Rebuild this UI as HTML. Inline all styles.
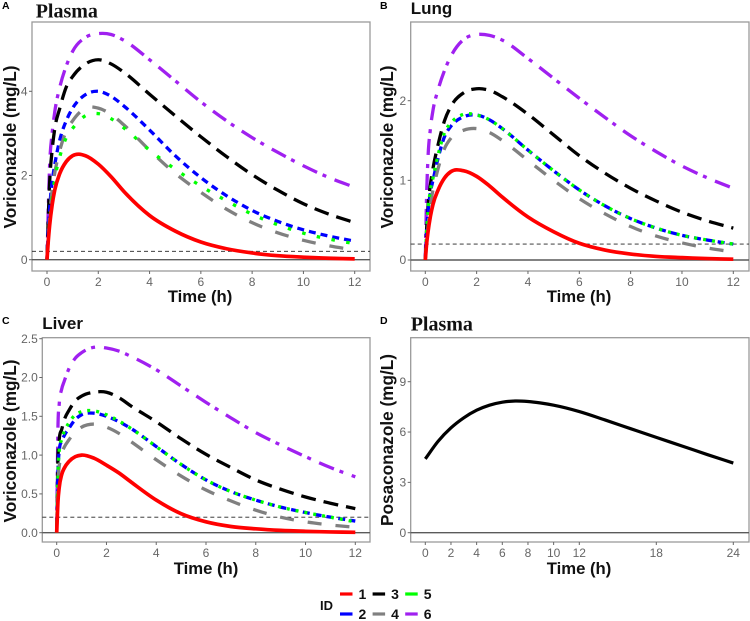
<!DOCTYPE html>
<html lang="en">
<head>
<meta charset="utf-8">
<title>Voriconazole and posaconazole concentration-time curves</title>
<style>
  html, body { margin: 0; padding: 0; background: #fff; }
  svg { display: block; filter: blur(0.3px); }
  text { font-family: "Liberation Sans", sans-serif; }
</style>
</head>
<body>
<svg id="chart" xmlns="http://www.w3.org/2000/svg" width="750" height="621" viewBox="0 0 750 621"></svg>
<script>
// ---- Data ----
const voriTimes = [0, 0.05, 0.1, 0.2, 0.3, 0.5, 0.75, 1, 1.5, 2, 2.5, 3, 4, 5, 6, 7, 8, 9, 10, 11, 12];

const plasmaId1 = [0, 0.45, 0.8, 1.3, 1.65, 2.05, 2.33, 2.47, 2.47, 2.27, 1.97, 1.62, 1.05, 0.68, 0.42, 0.26, 0.16, 0.095, 0.06, 0.035, 0.02];
const plasmaId2 = [0, 0.7, 1.2, 1.85, 2.25, 2.85, 3.3, 3.6, 3.92, 4.0, 3.88, 3.65, 3.08, 2.47, 1.95, 1.52, 1.17, 0.91, 0.71, 0.56, 0.44];
const plasmaId3 = [0, 1.0, 1.8, 2.6, 3.1, 3.6, 4.1, 4.35, 4.65, 4.75, 4.65, 4.45, 3.93, 3.42, 2.92, 2.45, 2.02, 1.65, 1.33, 1.08, 0.88];
const plasmaId4 = [0, 0.5, 1.0, 1.65, 2.05, 2.6, 3.05, 3.3, 3.6, 3.6, 3.45, 3.2, 2.6, 2.05, 1.6, 1.2, 0.88, 0.64, 0.46, 0.33, 0.23];
const plasmaId5 = [0, 0.45, 0.85, 1.45, 1.9, 2.45, 2.9, 3.12, 3.42, 3.47, 3.35, 3.13, 2.6, 2.15, 1.75, 1.4, 1.08, 0.83, 0.63, 0.49, 0.38];
const plasmaId6 = [0, 1.2, 2.2, 3.0, 3.5, 4.1, 4.6, 4.95, 5.28, 5.37, 5.35, 5.21, 4.75, 4.25, 3.75, 3.3, 2.9, 2.55, 2.23, 1.95, 1.72];

const lungId1 = [0, 0.2, 0.34, 0.55, 0.7, 0.88, 1.03, 1.11, 1.12, 1.05, 0.93, 0.79, 0.54, 0.355, 0.21, 0.125, 0.075, 0.045, 0.03, 0.018, 0.01];
const lungId2 = [0, 0.35, 0.58, 0.85, 1.0, 1.28, 1.55, 1.68, 1.8, 1.82, 1.76, 1.65, 1.38, 1.12, 0.88, 0.68, 0.52, 0.4, 0.31, 0.25, 0.2];
const lungId3 = [0, 0.38, 0.65, 0.95, 1.15, 1.45, 1.75, 1.93, 2.1, 2.15, 2.13, 2.05, 1.83, 1.57, 1.31, 1.09, 0.9, 0.74, 0.6, 0.49, 0.4];
const lungId4 = [0, 0.2, 0.4, 0.7, 0.88, 1.15, 1.4, 1.53, 1.63, 1.65, 1.6, 1.5, 1.25, 1.0, 0.77, 0.58, 0.42, 0.3, 0.215, 0.15, 0.1];
const lungId5 = [0, 0.35, 0.6, 0.88, 1.03, 1.32, 1.6, 1.72, 1.83, 1.82, 1.76, 1.65, 1.38, 1.12, 0.88, 0.68, 0.52, 0.4, 0.31, 0.25, 0.2];
const lungId6 = [0, 0.8, 1.25, 1.65, 1.88, 2.14, 2.38, 2.56, 2.77, 2.83, 2.82, 2.76, 2.53, 2.28, 2.03, 1.79, 1.56, 1.36, 1.18, 1.03, 0.9];

const liverId1 = [0, 0.4, 0.58, 0.75, 0.83, 0.92, 0.98, 1.0, 0.96, 0.87, 0.77, 0.65, 0.42, 0.245, 0.14, 0.08, 0.05, 0.03, 0.018, 0.01, 0.005];
const liverId2 = [0, 0.8, 1.05, 1.18, 1.25, 1.35, 1.46, 1.52, 1.54, 1.5, 1.43, 1.34, 1.11, 0.88, 0.68, 0.53, 0.42, 0.33, 0.26, 0.2, 0.15];
const liverId3 = [0, 0.95, 1.2, 1.33, 1.45, 1.58, 1.7, 1.76, 1.81, 1.81, 1.74, 1.63, 1.43, 1.21, 1.01, 0.84, 0.68, 0.56, 0.46, 0.38, 0.31];
const liverId4 = [0, 0.65, 0.85, 1.02, 1.1, 1.2, 1.3, 1.36, 1.4, 1.36, 1.28, 1.17, 0.94, 0.73, 0.55, 0.41, 0.29, 0.2, 0.14, 0.1, 0.07];
const liverId5 = [0, 0.75, 1.05, 1.2, 1.3, 1.42, 1.52, 1.56, 1.57, 1.52, 1.44, 1.34, 1.11, 0.88, 0.68, 0.53, 0.42, 0.33, 0.26, 0.2, 0.14];
const liverId6 = [0, 1.35, 1.65, 1.85, 1.95, 2.12, 2.25, 2.32, 2.39, 2.38, 2.34, 2.27, 2.1, 1.89, 1.68, 1.48, 1.29, 1.13, 0.98, 0.84, 0.72];

const posaTimes = [0, 1, 2, 3, 4, 5, 6, 7, 8, 9, 10, 12, 14, 16, 18, 20, 22, 24];
const posaValues = [4.4, 5.45, 6.25, 6.85, 7.3, 7.6, 7.78, 7.85, 7.82, 7.73, 7.6, 7.22, 6.72, 6.2, 5.68, 5.17, 4.65, 4.15];

const voriXTicks = [0, 2, 4, 6, 8, 10, 12];
const posaXTicks = [0, 2, 4, 6, 8, 10, 12, 18, 24];
const plasmaYTicks = [0, 2, 4];
const lungYTicks = [0, 1, 2];
const liverYTicks = [0, 0.5, 1, 1.5, 2, 2.5];
const posaYTicks = [0, 3, 6, 9];
const thresholdValue = 0.2;
const legendIds = ["1", "2", "3", "4", "5", "6"];

// ---- Styles ----
const idColors = { 1: "#ff0000", 2: "#0000ff", 3: "#000000", 4: "#808080", 5: "#00ff00", 6: "#a020f0" };
const idWidths = { 1: 3.7, 2: 3.3, 3: 3.3, 4: 3.3, 5: 3.3, 6: 3.3 };
const idDashes = { 1: "", 2: "7 5", 3: "15 8", 4: "14 14", 5: "3 9", 6: "16 6 4 9" };
const drawOrder = [6, 3, 2, 4, 5, 1];

const panels = [
  { key: "plasma", letter: "A", title: "Plasma", serif: true, letterX: 2, letterY: 9, titleX: 35.7, titleY: 17.5,
    box: [32, 22, 370, 271], xA: [0, 47], xB: [12, 354.7], yA: [0, 259.7], yB: [4, 91.3],
    xTicks: voriXTicks, yTicks: plasmaYTicks, yDecimals: 0, yTitle: "Voriconazole (mg/L)",
    xTitleX: 200, xTitleY: 302, yTitleX: 16, yTitleY: 147, greenDash: "3.5 11.5",
    series: { 1: plasmaId1, 2: plasmaId2, 3: plasmaId3, 4: plasmaId4, 5: plasmaId5, 6: plasmaId6 } },
  { key: "lung", letter: "B", title: "Lung", serif: false, letterX: 380, letterY: 9, titleX: 410.7, titleY: 14,
    box: [410.7, 22, 749, 271], xA: [0, 425.3], xB: [12, 733.3], yA: [0, 260], yB: [2, 100.7],
    xTicks: voriXTicks, yTicks: lungYTicks, yDecimals: 0, yTitle: "Voriconazole (mg/L)",
    xTitleX: 579, xTitleY: 302, yTitleX: 393, yTitleY: 147, greenDash: "3 6",
    series: { 1: lungId1, 2: lungId2, 3: lungId3, 4: lungId4, 5: lungId5, 6: lungId6 } },
  { key: "liver", letter: "C", title: "Liver", serif: false, letterX: 2, letterY: 324, titleX: 42.3, titleY: 329,
    box: [42.3, 337.7, 370, 542], xA: [0, 56.7], xB: [12, 355.3], yA: [0, 532.7], yB: [2.5, 338.7],
    xTicks: voriXTicks, yTicks: liverYTicks, yDecimals: 1, yTitle: "Voriconazole (mg/L)",
    xTitleX: 206, xTitleY: 574, yTitleX: 16, yTitleY: 441, greenDash: "3 6",
    series: { 1: liverId1, 2: liverId2, 3: liverId3, 4: liverId4, 5: liverId5, 6: liverId6 } }
];

const svg = document.getElementById("chart");
const NS = "http://www.w3.org/2000/svg";

function make(tag, attrs, parent) {
  const node = document.createElementNS(NS, tag);
  for (const k in attrs) node.setAttribute(k, attrs[k]);
  (parent || svg).appendChild(node);
  return node;
}

function linearScale(a, b) {
  const k = (b[1] - a[1]) / (b[0] - a[0]);
  return v => a[1] + (v - a[0]) * k;
}

// Cubic Hermite interpolation with finite-difference tangents
function smoothPath(xs, ys, xScale, yScale) {
  const n = xs.length;
  const slope = [];
  for (let i = 0; i < n; i++) {
    if (i === 0) slope.push((ys[1] - ys[0]) / (xs[1] - xs[0]));
    else if (i === n - 1) slope.push((ys[n - 1] - ys[n - 2]) / (xs[n - 1] - xs[n - 2]));
    else {
      const h0 = xs[i] - xs[i - 1], h1 = xs[i + 1] - xs[i];
      const d0 = (ys[i] - ys[i - 1]) / h0, d1 = (ys[i + 1] - ys[i]) / h1;
      slope.push((d0 * h1 + d1 * h0) / (h0 + h1));
    }
  }
  let d = "M" + xScale(xs[0]).toFixed(2) + "," + yScale(ys[0]).toFixed(2);
  for (let i = 0; i < n - 1; i++) {
    const h = xs[i + 1] - xs[i];
    const x1 = xs[i] + h / 3, y1 = ys[i] + slope[i] * h / 3;
    const x2 = xs[i + 1] - h / 3, y2 = ys[i + 1] - slope[i + 1] * h / 3;
    d += "C" + xScale(x1).toFixed(2) + "," + yScale(y1).toFixed(2) + " " +
         xScale(x2).toFixed(2) + "," + yScale(y2).toFixed(2) + " " +
         xScale(xs[i + 1]).toFixed(2) + "," + yScale(ys[i + 1]).toFixed(2);
  }
  return d;
}

function drawFrame(cfg, xScale, yScale) {
  const [l, t, r, b] = cfg.box;

  const letter = make("text", { x: cfg.letterX, y: cfg.letterY, "font-size": 10.5, "font-weight": "bold", fill: "#000" });
  
  
  letter.textContent = cfg.letter;

  const title = make("text", { x: cfg.titleX, y: cfg.titleY, "font-size": cfg.serif ? 20 : 17, "font-weight": "bold", fill: "#111" });
  if (cfg.serif) title.style.fontFamily = '"Liberation Serif", serif';
  
  
  title.textContent = cfg.title;

  const frame = make("rect", { x: l, y: t, width: r - l, height: b - t, fill: "#fff", stroke: "#9a9a9a", "stroke-width": 1.3 });
  
  

  cfg.xTicks.forEach(v => {
    const tick = make("line", { x1: xScale(v), x2: xScale(v), y1: b, y2: b + 3, stroke: "#666", "stroke-width": 1 });
    
    
    const label = make("text", { x: xScale(v), y: b + 15, "font-size": 12, fill: "#666", "text-anchor": "middle" });
    
    
    label.textContent = String(v);
  });

  cfg.yTicks.forEach(v => {
    const tick = make("line", { x1: l - 3, x2: l, y1: yScale(v), y2: yScale(v), stroke: "#666", "stroke-width": 1 });
    
    
    const label = make("text", { x: l - 4.5, y: yScale(v) + 4.2, "font-size": 12, fill: "#666", "text-anchor": "end" });
    
    
    label.textContent = v.toFixed(cfg.yDecimals);
  });

  const xTitle = make("text", { x: cfg.xTitleX, y: cfg.xTitleY, "font-size": 16.7, "font-weight": "bold", fill: "#111", "text-anchor": "middle" });
  
  
  xTitle.textContent = "Time (h)";

  const yTitle = make("text", { x: 0, y: 0, "font-size": 17.2, "font-weight": "bold", fill: "#111", "text-anchor": "middle",
    transform: "translate(" + cfg.yTitleX + "," + cfg.yTitleY + ") rotate(-90)" });
  
  
  yTitle.textContent = cfg.yTitle;

  const zero = make("line", { x1: l, x2: r, y1: yScale(0), y2: yScale(0), stroke: "#5a5a5a", "stroke-width": 1.4 });
  
  
}

panels.forEach(cfg => {
  const xScale = linearScale(cfg.xA, cfg.xB);
  const yScale = linearScale(cfg.yA, cfg.yB);
  drawFrame(cfg, xScale, yScale);
  const [l, , r] = cfg.box;

  const thr = make("line", { x1: l, x2: r, y1: yScale(thresholdValue), y2: yScale(thresholdValue), stroke: "#222", "stroke-width": 0.9, "stroke-dasharray": "4 3" });
  
  

  drawOrder.forEach(id => {
    const dash = id === 5 ? cfg.greenDash : idDashes[id];
    const attrs = { d: smoothPath(voriTimes, cfg.series[id], xScale, yScale), fill: "none", stroke: idColors[id], "stroke-width": idWidths[id], "stroke-linejoin": "round" };
    if (dash) attrs["stroke-dasharray"] = dash;
    const curve = make("path", attrs);
    
    
  });
});

// Panel D: posaconazole
const posaPanel = { key: "posaconazole", letter: "D", title: "Plasma", serif: true, letterX: 380, letterY: 324, titleX: 410.7, titleY: 330.7,
  box: [410.7, 337.7, 749, 542], xTicks: posaXTicks, yTicks: posaYTicks, yDecimals: 0, yTitle: "Posaconazole (mg/L)",
  xTitleX: 579, xTitleY: 574, yTitleX: 393, yTitleY: 440 };
const posaX = linearScale([0, 425.3], [24, 733.3]);
const posaY = linearScale([0, 532.7], [9, 381.7]);
drawFrame(posaPanel, posaX, posaY);
const posaCurve = make("path", { d: smoothPath(posaTimes, posaValues, posaX, posaY), fill: "none", stroke: "#000", "stroke-width": 3.2 });



// Legend
const legendTitle = make("text", { x: 320, y: 610, "font-size": 13, "font-weight": "bold", fill: "#111" });


legendTitle.textContent = "ID";

legendIds.forEach((id, i) => {
  const col = Math.floor(i / 2), row = i % 2;
  const x = 340 + col * 32.6, y = 594 + row * 20;
  const key = make("line", { x1: x, x2: x + 12.5, y1: y, y2: y, stroke: idColors[id], "stroke-width": 3.2 });
  
  
  const label = make("text", { x: x + 18.5, y: y + 5, "font-size": 14, "font-weight": "bold", fill: "#111" });
  
  
  label.textContent = id;
});
</script>
</body>
</html>
